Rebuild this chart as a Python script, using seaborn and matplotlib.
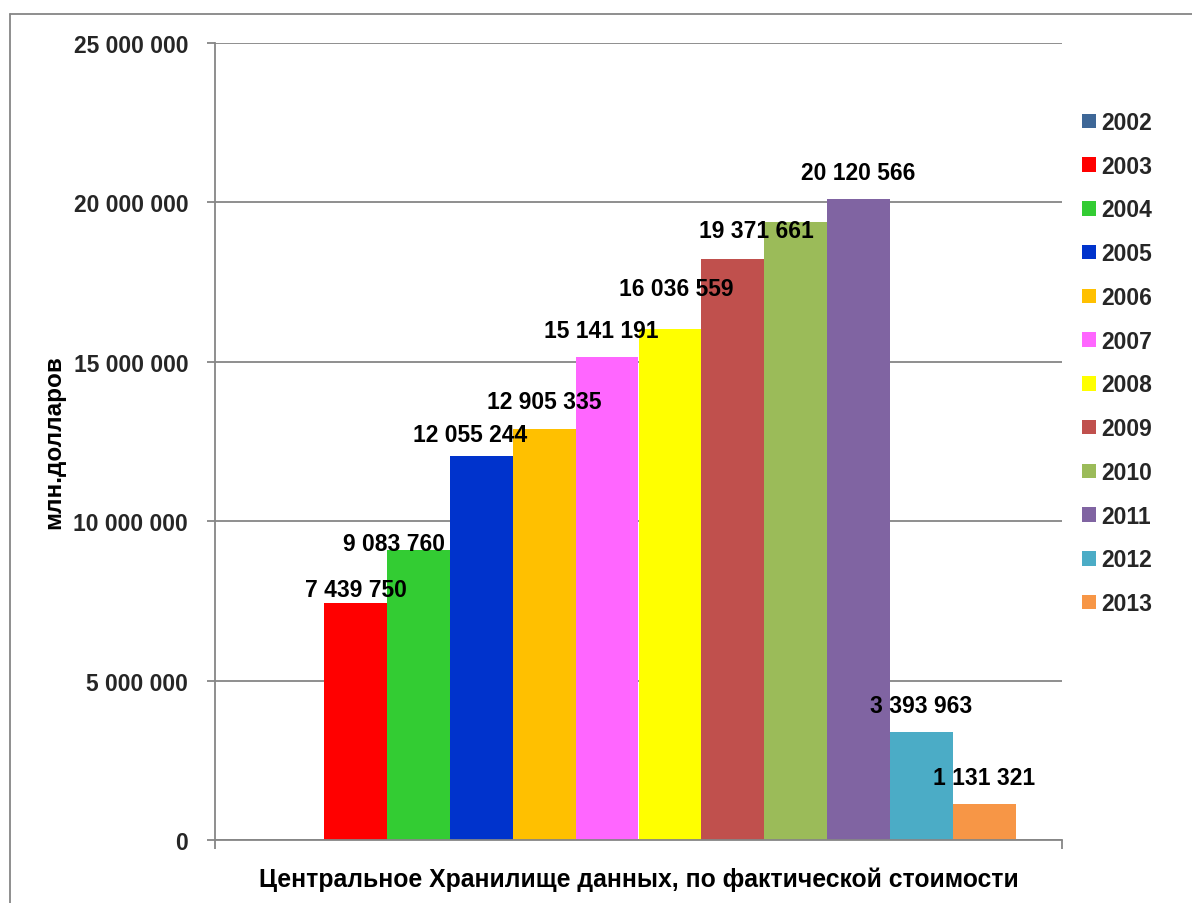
import numpy as np
import pandas as pd
import matplotlib
matplotlib.use("Agg")
import matplotlib.pyplot as plt
from matplotlib.patches import Patch
from matplotlib.lines import Line2D
from matplotlib.ticker import FuncFormatter
import seaborn as sns

# Data
years = ["2002", "2003", "2004", "2005", "2006", "2007",
         "2008", "2009", "2010", "2011", "2012", "2013"]
values = [np.nan, 7439750, 9083760, 12055244, 12905335, 15141191,
          16036559, 18240000, 19371661, 20120566, 3393963, 1131321]
labelled = [False, True, True, True, True, True,
            True, False, True, True, True, True]
category = "Центральное Хранилище данных, по фактической стоимости"
y_title = "млн.долларов"
y_ticks = [0, 5000000, 10000000, 15000000, 20000000, 25000000]

colors = ["#3E6797", "#FF0000", "#33CC33", "#0033CC", "#FFC000", "#FF66FF",
          "#FFFF00", "#C0504D", "#9BBB59", "#8064A2", "#4BACC6", "#F79646"]

# label placement (pixel offsets of label centre from bar centre / bar top)
label_dx = [0, 0, -24, -11, 0, -6, 6, 0, -39, 0, 0, 0]
label_dy = [0, 13, 7, 21, 27, 27, 40, 0, -8, 26, 26, 26]

sns.set_theme(style="white")
plt.rcParams["font.family"] = ["Liberation Sans", "DejaVu Sans"]
plt.rcParams["font.weight"] = "bold"

FS = 16.5
FS_X = 17.8
GRID = "#868686"

df = pd.DataFrame({"cat": [category] * len(years), "year": years, "value": values})

W, H = 1192, 904
fig = plt.figure(figsize=(W / 100, H / 100), dpi=100)
fig.patch.set_facecolor("white")
ax = fig.add_axes([215 / W, 1 - 841 / H, 847 / W, 797 / H])

sns.barplot(data=df, x="cat", y="value", hue="year", hue_order=years,
            palette=colors, width=0.891, saturation=1, dodge=True,
            linewidth=0, legend=False, ax=ax)

ax.set_xlim(-0.5, 0.5)
ax.set_ylim(0, 25000000)
ax.set_yticks(y_ticks)
ax.yaxis.set_major_formatter(FuncFormatter(lambda v, p: f"{int(v):,}".replace(",", " ")))
ax.set_xticks([-0.5, 0.5])
ax.set_xticklabels(["", ""])
ax.tick_params(axis="y", direction="out", length=5.8, width=1.3, color=GRID,
               pad=13.5, labelsize=FS, left=True)
ax.tick_params(axis="x", direction="out", length=6.5, width=1.3, color=GRID, bottom=True)
for lab in ax.get_yticklabels():
    lab.set_fontweight("bold")

ax.yaxis.grid(True, color=GRID, linewidth=1.3)
ax.set_axisbelow(True)
for s in ["top", "right"]:
    ax.spines[s].set_visible(False)
for s in ["left", "bottom"]:
    ax.spines[s].set_color(GRID)
    ax.spines[s].set_linewidth(1.3)

ax.set_xlabel(category, fontsize=FS_X, fontweight="bold", labelpad=9, color="black")
ax.set_ylabel(y_title, fontsize=17.5, fontweight="bold", labelpad=6, color="black")

# value labels over the bars
slot_w = 0.891 / len(years)
for i, (yr, v) in enumerate(zip(years, values)):
    if not labelled[i] or np.isnan(v):
        continue
    xc = -0.891 / 2 + slot_w * (i + 0.5)
    ax.annotate(f"{int(v):,}".replace(",", " "), xy=(xc, v),
                xytext=(label_dx[i], label_dy[i]), textcoords="offset pixels",
                ha="center", va="center", fontsize=FS, fontweight="bold",
                color="black", annotation_clip=False)

# legend
handles = [Patch(facecolor=c, edgecolor="none") for c in colors]
fig.legend(handles, years, loc="upper left", bbox_to_anchor=(1082 / W, 1 - 112 / H),
           frameon=False, prop={"weight": "bold", "size": FS},
           handlelength=0.6, handleheight=0.6, handletextpad=0.26,
           labelspacing=0.905, borderpad=0, borderaxespad=0)

# outer chart frame
fig.add_artist(Line2D([10 / W, 10 / W], [0, 1 - 15 / H], transform=fig.transFigure,
                      color=GRID, linewidth=1.3))
fig.add_artist(Line2D([10 / W, 1], [1 - 15 / H, 1 - 15 / H], transform=fig.transFigure,
                      color=GRID, linewidth=1.3))

fig.savefig("out.png", dpi=100, facecolor="white")
